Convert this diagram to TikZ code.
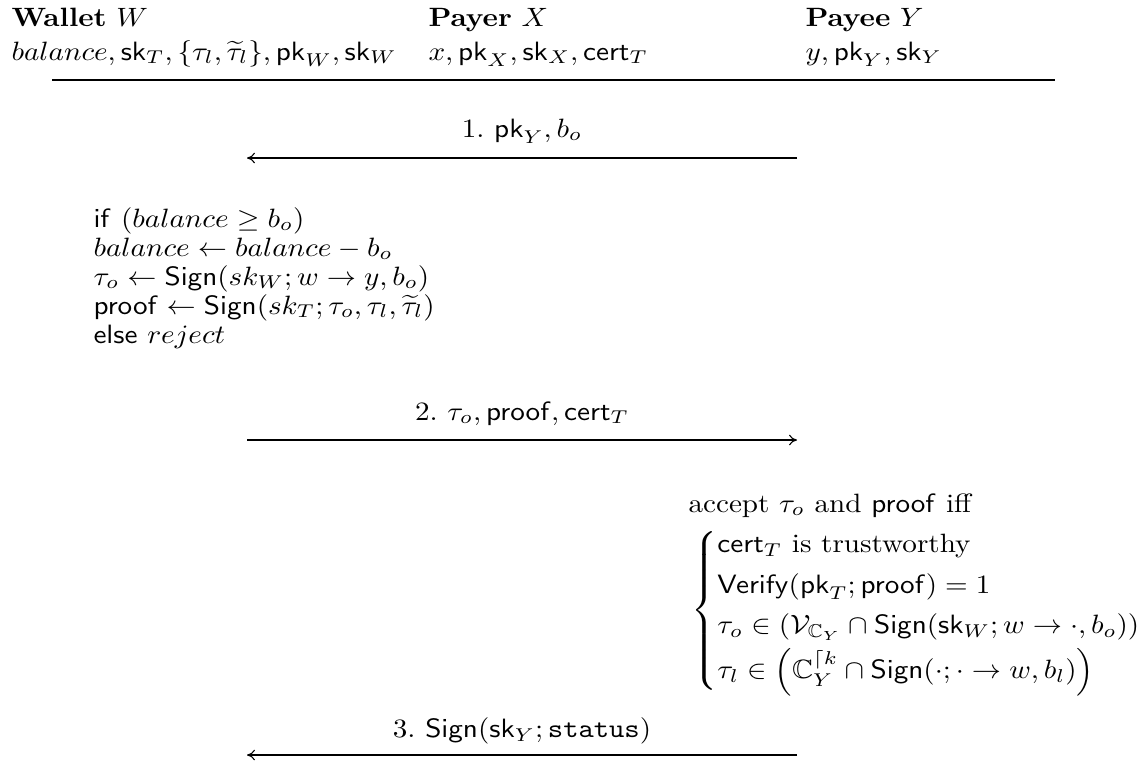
\documentclass[tikz,border=0pt]{standalone}
\usepackage{amsmath,amssymb}
\usepackage{graphicx}
\usetikzlibrary{arrows.meta}
\newcommand{\sx}[1]{\scalebox{1.10}[1]{#1}}
\begin{document}
\begin{tikzpicture}[x=0.37736pt,y=-0.37736pt,
  txt/.style={inner sep=0pt, anchor=base west},
  lbl/.style={inner sep=0pt, anchor=base},
  msg/.style={-{To[length=3pt,width=4pt]}, line width=0.4pt},
  rulex/.style={line width=0.4pt}]
\useasboundingbox (0,0) rectangle (1139,765);
% headers
\node[txt] (wal)  at (11,26)  {\sx{\textbf{Wallet} $W$}};
\node[txt] (walv) at (11,60)  {\sx{$balance, \mathsf{sk}_T, \{\tau_l,\widetilde{\tau}_l\}, \mathsf{pk}_W, \mathsf{sk}_W$}};
\node[txt] (pay)  at (428,26) {\sx{\textbf{Payer} $X$}};
\node[txt] (payv) at (428,60) {\sx{$x, \mathsf{pk}_X, \mathsf{sk}_X, \mathsf{cert}_T$}};
\node[txt] (pye)  at (805,26) {\sx{\textbf{Payee} $Y$}};
\node[txt] (pyev) at (805,60) {\sx{$y, \mathsf{pk}_Y, \mathsf{sk}_Y$}};
\coordinate (r1) at (52,80);
\coordinate (r2) at (1055,80);
\draw[rulex] (r1) -- (r2);
% message 1
\coordinate (m1r) at (797,158);
\coordinate (m1l) at (247,158);
\node[lbl] (l1) at (522,137) {\sx{1.\ $\mathsf{pk}_Y, b_o$}};
\draw[msg] (m1r) -- (m1l);
% wallet computation
\node[txt] (if1) at (93,227) {\sx{$\mathsf{if}$ $(balance \geq b_o)$}};
\node[txt] (if2) at (93,256) {\sx{$balance \leftarrow balance - b_o$}};
\node[txt] (if3) at (93,285) {\sx{$\tau_o \leftarrow \mathsf{Sign}(sk_W; w \to y, b_o)$}};
\node[txt] (if4) at (93,314) {\sx{$\mathsf{proof} \leftarrow \mathsf{Sign}(sk_T; \tau_o, \tau_l, \widetilde{\tau}_l)$}};
\node[txt] (if5) at (93,343) {\sx{$\mathsf{else}$ $reject$}};
% message 2
\coordinate (m2l) at (247,440);
\coordinate (m2r) at (797,440);
\node[lbl] (l2) at (522,420) {\sx{2.\ $\tau_o, \mathsf{proof}, \mathsf{cert}_T$}};
\draw[msg] (m2l) -- (m2r);
% payee check
\node[txt] (acc) at (688,512) {\sx{accept $\tau_o$ and $\mathsf{proof}$ iff}};
\node[inner sep=0pt, anchor=north west] (cases) at (691,525) {\sx{$\begin{cases}
\mathsf{cert}_T \text{ is trustworthy}\\[1pt]
\mathsf{Verify}(\mathsf{pk}_T;\mathsf{proof}) = 1\\[1pt]
\tau_o \in (\mathcal{V}_{\mathbb{C}_Y} \cap \mathsf{Sign}(\mathsf{sk}_W; w \to \cdot, b_o))\\[1pt]
\tau_l \in \left(\mathbb{C}_Y^{\lceil k} \cap \mathsf{Sign}(\cdot;\cdot \to w, b_l)\right)
\end{cases}$}};
% message 3
\coordinate (m3r) at (797,755);
\coordinate (m3l) at (247,755);
\node[lbl] (l3) at (522,737) {\sx{3.\ $\mathsf{Sign}(\mathsf{sk}_Y;\texttt{status})$}};
\draw[msg] (m3r) -- (m3l);
\end{tikzpicture}
\end{document}
